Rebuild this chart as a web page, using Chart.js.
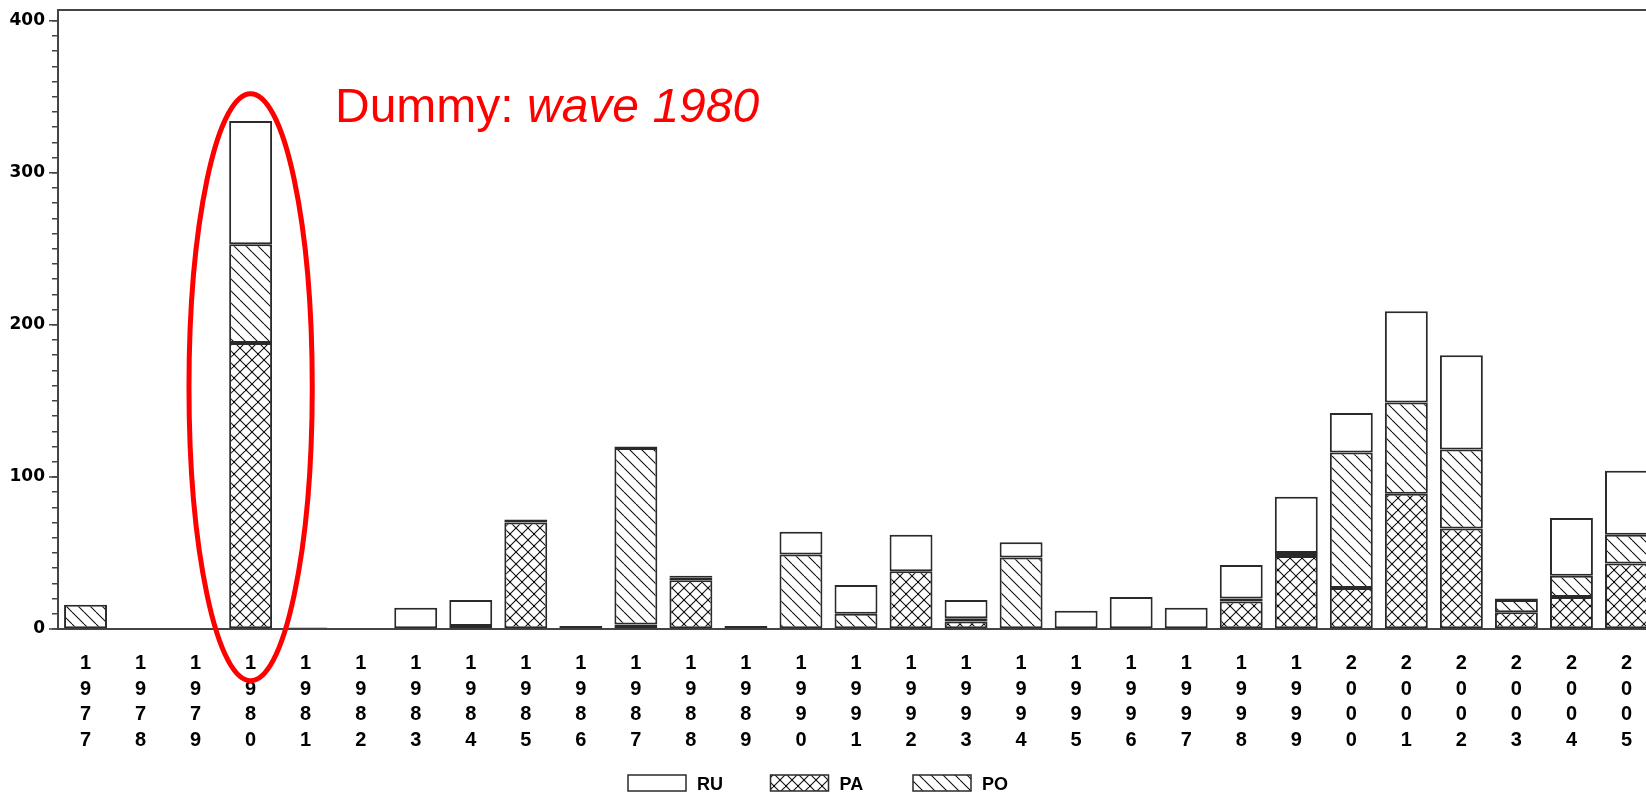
<!DOCTYPE html>
<html>
<head>
<meta charset="utf-8">
<script src="https://cdn.jsdelivr.net/npm/chart.js@4.4.1/dist/chart.umd.min.js"></script>
<style>
  html, body { margin: 0; padding: 0; overflow: hidden; background: #fff; }
</style>
</head>
<body>
<canvas id="myChart" width="1656" height="793"></canvas>
<script>
// data
const years = ['1977','1978','1979','1980','1981','1982','1983','1984','1985','1986',
  '1987','1988','1989','1990','1991','1992','1993','1994','1995','1996',
  '1997','1998','1999','2000','2001','2002','2003','2004','2005'];
const pa = [0, 0, 0, 188, 1, 0, 0, 2, 70, 2, 3, 32, 2, 0, 0, 38, 5, 0, 0, 0, 0, 18, 48, 27, 89, 66, 11, 21, 43];
const po = [16, 0, 0, 65, 0, 0, 0, 0, 1, 0, 116, 2, 0, 49, 10, 0, 2, 47, 0, 0, 0, 2, 2, 89, 60, 52, 8, 14, 19];
const ru = [0, 0, 0, 81, 0, 0, 14, 17, 1, 0, 1, 1, 0, 15, 19, 24, 12, 10, 12, 21, 14, 22, 37, 26, 60, 62, 1, 38, 42];
const legendOrder = ['RU', 'PA', 'PO'];
const yMax = 400, yMinor = 10, yMajor = 100;
const note = ['Dummy: ', 'wave 1980'];
const noteYear = '1980';

const FONT = '"Liberation Sans", Arial, sans-serif';
const INK = '#2a2a2a';

const makeHatch = (cross) => {
  const s = 12;
  const c = document.createElement('canvas');
  c.width = s; c.height = s;
  const g = c.getContext('2d');
  g.fillStyle = '#fff';
  g.fillRect(0, 0, s, s);
  g.strokeStyle = '#111';
  g.lineWidth = 1.1;
  g.beginPath();
  for (const o of [-s, 0, s]) {
    g.moveTo(o, 0); g.lineTo(o + s, s);
    if (cross) { g.moveTo(o + s, 0); g.lineTo(o, s); }
  }
  g.stroke();
  if (cross) {
    g.fillStyle = '#000';
    g.fillRect(s / 2 - 1, s / 2 - 1, 2, 2);
    g.fillRect(0, 0, 1, 1);
  }
  return document.createElement('canvas').getContext('2d').createPattern(c, 'repeat');
};

// top edge of the frame, longer ticks at the labelled values, legend row
const frame = {
  id: 'frame',
  afterDraw(chart) {
    const { ctx, chartArea } = chart;
    const y = chart.scales.y;
    ctx.save();
    ctx.strokeStyle = '#444';
    ctx.lineWidth = 2;
    ctx.beginPath();
    ctx.moveTo(chartArea.left, chartArea.top);
    ctx.lineTo(chartArea.right, chartArea.top);
    ctx.stroke();
    ctx.lineWidth = 1.5;
    ctx.beginPath();
    for (let v = 0; v <= yMax; v += yMajor) {
      const py = y.getPixelForValue(v);
      ctx.moveTo(chartArea.left - 9, py);
      ctx.lineTo(chartArea.left, py);
    }
    ctx.stroke();

    // legend
    let lx = 628;
    const ly = 775;
    ctx.font = 'bold 18px ' + FONT;
    ctx.textBaseline = 'alphabetic';
    legendOrder.forEach((name) => {
      const ds = chart.data.datasets.find(d => d.label === name);
      ctx.fillStyle = ds.backgroundColor;
      ctx.fillRect(lx, ly, 58, 16);
      ctx.strokeStyle = INK;
      ctx.lineWidth = 1.5;
      ctx.strokeRect(lx, ly, 58, 16);
      ctx.fillStyle = '#000';
      ctx.fillText(name, lx + 69, ly + 15);
      lx += 142.5;
    });
    ctx.restore();
  }
};

const dummyNote = {
  id: 'dummyNote',
  afterDraw(chart) {
    const { ctx } = chart;
    const x = chart.scales.x, y = chart.scales.y;
    const i = years.indexOf(noteYear);
    const cx = x.getPixelForValue(i);
    const top = y.getPixelForValue(352), bot = y.getPixelForValue(-34);
    const rx = (x.getPixelForValue(1) - x.getPixelForValue(0)) * 1.12;
    ctx.save();
    ctx.strokeStyle = '#ff0000';
    ctx.lineWidth = 5;
    ctx.beginPath();
    ctx.ellipse(cx, (top + bot) / 2, rx, (bot - top) / 2, 0, 0, Math.PI * 2);
    ctx.stroke();
    ctx.fillStyle = '#ff0000';
    ctx.textBaseline = 'alphabetic';
    ctx.font = '48px ' + FONT;
    const tx = 335, ty = 122;
    ctx.fillText(note[0], tx, ty);
    const w0 = ctx.measureText(note[0]).width;
    ctx.font = 'italic 48px ' + FONT;
    ctx.fillText(note[1], tx + w0, ty);
    ctx.restore();
  }
};

const ctx = document.getElementById('myChart').getContext('2d');
const barStyle = { borderColor: INK, borderWidth: 2, borderSkipped: false, barPercentage: 0.78, categoryPercentage: 1 };

const myChart = new Chart(ctx, {
  type: 'bar',
  data: {
    labels: years.map(y => y.split('')),
    datasets: [
      { label: 'PA', data: pa, backgroundColor: makeHatch(true), ...barStyle },
      { label: 'PO', data: po, backgroundColor: makeHatch(false), ...barStyle },
      { label: 'RU', data: ru, backgroundColor: '#fff', ...barStyle }
    ]
  },
  options: {
    responsive: false,
    animation: false,
    layout: { padding: { top: 10, right: 2, left: 0, bottom: 0 } },
    plugins: {
      tooltip: { enabled: false },
      legend: { display: false }
    },
    scales: {
      x: {
        stacked: true,
        afterFit: (s) => { s.height = 164; },
        grid: { display: false, drawTicks: false },
        border: { color: '#444', width: 2 },
        ticks: {
          autoSkip: false,
          maxRotation: 0,
          padding: 22,
          color: '#000',
          font: { size: 20, weight: 'bold', family: FONT, lineHeight: 1.275 }
        }
      },
      y: {
        stacked: true,
        min: 0,
        max: 407,
        afterBuildTicks: (s) => {
          const t = [];
          for (let v = 0; v <= yMax; v += yMinor) t.push({ value: v });
          s.ticks = t;
        },
        afterFit: (s) => { s.width = 58; s.paddingTop = 0; s.paddingBottom = 0; },
        grid: { drawOnChartArea: false, tickLength: 6, color: '#444', lineWidth: 1.5 },
        border: { color: '#444', width: 2 },
        ticks: {
          autoSkip: false,
          padding: 7,
          color: '#000',
          font: { size: 17, weight: 'bold', family: '"DejaVu Sans", sans-serif' },
          callback: (v) => (v % yMajor === 0 ? String(v) : '')
        }
      }
    }
  },
  plugins: [frame, dummyNote]
});
</script>
</body>
</html>
